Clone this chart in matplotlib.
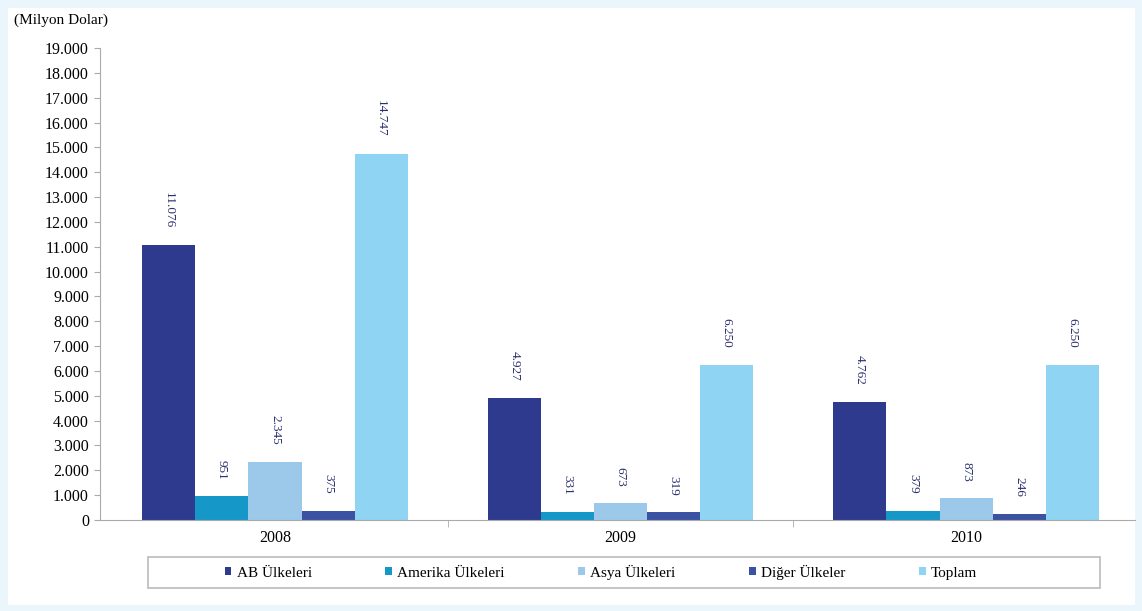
import numpy as np
import matplotlib
matplotlib.use("Agg")
import matplotlib.pyplot as plt
from matplotlib.patches import Rectangle
from matplotlib.ticker import FuncFormatter

years = ["2008", "2009", "2010"]
series = ["AB Ülkeleri", "Amerika Ülkeleri", "Asya Ülkeleri", "Diğer Ülkeler", "Toplam"]
ab = [11076, 4927, 4762]
amerika = [951, 331, 379]
asya = [2345, 673, 873]
diger = [375, 319, 246]
toplam = [14747, 6250, 6250]
colors = ["#2d3a8e", "#1597c8", "#9cc8ea", "#3b51a2", "#8fd5f3"]

plt.rcParams["font.family"] = ["Liberation Serif", "DejaVu Serif"]

fig = plt.figure(figsize=(11.42, 6.11), dpi=100)
fig.patch.set_facecolor("#eaf5fc")
# white inner panel
fig.patches.append(Rectangle((8 / 1142, 6 / 611), 1127 / 1142, 597 / 611,
                             transform=fig.transFigure, facecolor="white",
                             edgecolor="none", zorder=-5))

ax = fig.add_axes([100 / 1142, 1 - 520 / 611, 1035 / 1142, 472 / 611])
ax.set_facecolor("none")
ax.set_zorder(2)
x = np.arange(len(years))
w = 0.1535
data = [ab, amerika, asya, diger, toplam]
for i, (name, vals, c) in enumerate(zip(series, data, colors)):
    pos = x + (i - 2) * w
    ax.bar(pos, vals, w, color=c, label=name)
    for p, v in zip(pos, vals):
        txt = f"{v:,}".replace(",", ".")
        ax.annotate(txt, (p, v), xytext=(0, 12), textcoords="offset points",
                    rotation=270, ha="center", va="bottom",
                    fontsize=9.5, color="#2a2f6e")

ax.set_xlim(-0.5065, 2.489)
ax.set_ylim(0, 19000)
ax.set_yticks(range(0, 19001, 1000))
ax.yaxis.set_major_formatter(FuncFormatter(lambda v, p: f"{int(v):,}".replace(",", ".")))
ax.set_xticks(x)
ax.set_xticklabels(years)
ax.tick_params(axis="y", labelsize=11.5, length=4, color="#aaaaaa", pad=4)
ax.tick_params(axis="x", labelsize=11.5, length=0, pad=7)
ax.set_xticks([0.5, 1.5], minor=True)
ax.tick_params(axis="x", which="minor", length=5, color="#aaaaaa")
for s in ["top", "right"]:
    ax.spines[s].set_visible(False)
ax.spines["left"].set_color("#aaaaaa")
ax.spines["bottom"].set_color("#aaaaaa")

fig.text(14 / 1142, 1 - 20 / 611, "(Milyon Dolar)", fontsize=11, va="center")

# legend frame
fig.patches.append(Rectangle((148 / 1142, 1 - 588 / 611), 952 / 1142, 31 / 611,
                             transform=fig.transFigure, facecolor="none",
                             edgecolor="#bbbbbb", linewidth=1.2, zorder=1))
ax.legend(loc="center", bbox_to_anchor=(601 / 1142, 1 - 572 / 611),
          bbox_transform=fig.transFigure, ncol=5, frameon=False,
          fontsize=11, handlelength=0.45, handleheight=0.45, handletextpad=0.35,
          columnspacing=4.8, borderaxespad=0)

fig.savefig("out.png", dpi=100, facecolor=fig.get_facecolor())
